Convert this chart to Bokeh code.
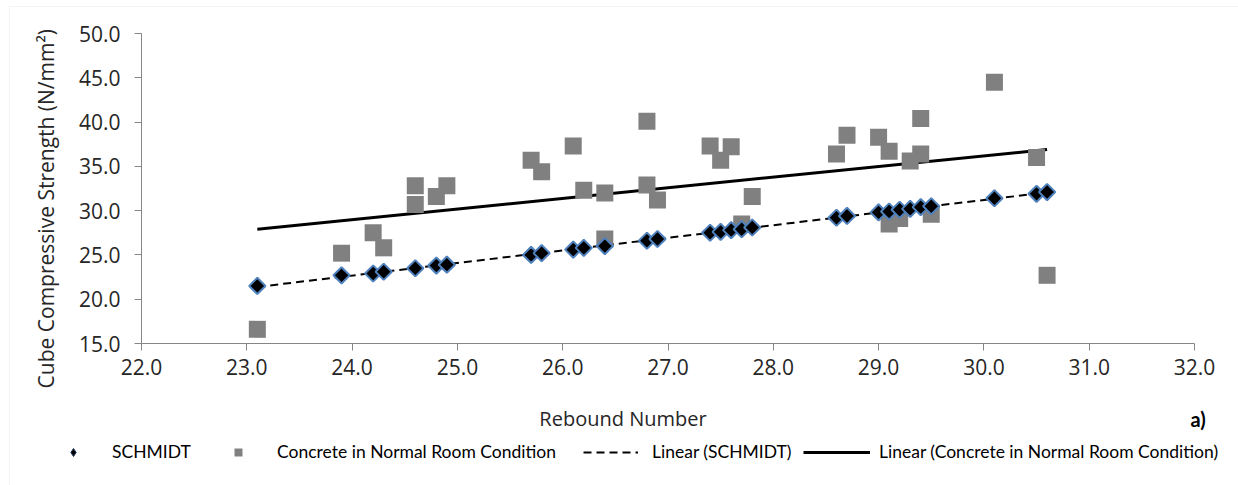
import numpy as np
from math import pi
from bokeh.plotting import figure
from bokeh.models import (Legend, LegendItem, Label, BoxAnnotation, FixedTicker,
                          PrintfTickFormatter, Range1d, ColumnDataSource)
from bokeh.embed import file_html
from bokeh.resources import INLINE

# ---------------- data ----------------
schmidt_x = [23.1, 23.9, 24.2, 24.3, 24.6, 24.8, 24.9, 25.7, 25.8, 26.1, 26.2, 26.4, 26.8, 26.9,
             27.4, 27.5, 27.6, 27.7, 27.8, 28.6, 28.7, 29.0, 29.1, 29.2, 29.3, 29.4, 29.5,
             30.1, 30.5, 30.6]
schmidt_y = [21.5, 22.7, 22.9, 23.1, 23.5, 23.8, 23.9, 25.0, 25.2, 25.6, 25.8, 26.0, 26.6, 26.8,
             27.5, 27.6, 27.8, 27.9, 28.1, 29.2, 29.4, 29.8, 29.9, 30.1, 30.2, 30.4, 30.5,
             31.4, 31.9, 32.1]

room_x = [23.1, 23.9, 24.2, 24.3, 24.6, 24.6, 24.8, 24.9, 25.7, 25.8, 26.1, 26.2, 26.4, 26.4,
          26.8, 26.8, 26.9, 27.4, 27.5, 27.6, 27.7, 27.8, 28.6, 28.7, 29.0, 29.1, 29.1, 29.2,
          29.3, 29.4, 29.4, 29.5, 30.1, 30.5, 30.6]
room_y = [16.6, 25.2, 27.5, 25.8, 32.8, 30.7, 31.6, 32.8, 35.7, 34.4, 37.3, 32.3, 32.0, 26.8,
          40.1, 32.9, 31.2, 37.3, 35.7, 37.2, 28.5, 31.6, 36.4, 38.5, 38.3, 36.7, 28.5, 29.1,
          35.6, 40.4, 36.4, 29.6, 44.5, 36.0, 22.7]

x_ticks = [22.0, 23.0, 24.0, 25.0, 26.0, 27.0, 28.0, 29.0, 30.0, 31.0, 32.0]
y_ticks = [15.0, 20.0, 25.0, 30.0, 35.0, 40.0, 45.0, 50.0]

series_names = ["SCHMIDT", "Concrete in Normal Room Condition",
                "Linear (SCHMIDT)", "Linear (Concrete in Normal Room Condition)"]
x_title = "Rebound Number"
y_title = "Cube  Compressive Strength (N/mm\u00b2)"
panel_tag = "a)"

# linear trend lines (least squares from the data)
def trend(xs, ys):
    k, b = np.polyfit(xs, ys, 1)
    xx = np.array([min(xs), max(xs)])
    return xx, k * xx + b

sx_line, sy_line = trend(schmidt_x, schmidt_y)
rx_line, ry_line = trend(room_x, room_y)

# ---------------- layout (pixels) ----------------
W, H = 1238, 485
PL, PR, PT, PB = 141, 1194, 33, 343     # plot-area edges in canvas pixels
X0, X1 = x_ticks[0], x_ticks[-1]
Y0, Y1 = y_ticks[0], y_ticks[-1]
kx = (PR - PL) / (X1 - X0)
ky = (PB - PT) / (Y1 - Y0)
x_range = Range1d(X0 - PL / kx, X1 + (W - PR) / kx)
y_range = Range1d(Y0 - (H - PB) / ky, Y1 + PT / ky)

TXT = "#262626"
AX = "#868686"
p = figure(width=W, height=H, output_backend="svg", toolbar_location=None,
           x_range=x_range, y_range=y_range,
           min_border_left=0, min_border_right=0, min_border_top=0, min_border_bottom=0)
p.background_fill_color = "white"
p.border_fill_color = "white"
p.outline_line_color = None
p.xgrid.visible = False
p.ygrid.visible = False

for ax in (p.xaxis[0], p.yaxis[0]):
    ax.axis_line_color = AX
    ax.major_tick_line_color = AX
    ax.major_tick_out = 7
    ax.major_tick_in = 0
    ax.minor_tick_line_color = None
    ax.major_label_text_font = "Open Sans"
    ax.major_label_text_font_size = "21px"
    ax.major_label_text_color = TXT
    ax.formatter = PrintfTickFormatter(format="%.1f")
p.xaxis[0].ticker = FixedTicker(ticks=x_ticks)
p.yaxis[0].ticker = FixedTicker(ticks=y_ticks)
p.xaxis[0].bounds = (X0, X1)
p.yaxis[0].bounds = (Y0, Y1)
p.xaxis[0].fixed_location = Y0
p.yaxis[0].fixed_location = X0
p.xaxis[0].major_label_standoff = 8
p.yaxis[0].major_label_standoff = 14

# outer chart-area frame
p.add_layout(BoxAnnotation(left=9, right=W + 50, top=H - 6, bottom=-50,
                           left_units="screen", right_units="screen",
                           top_units="screen", bottom_units="screen",
                           fill_alpha=0, line_color="#d9d9d9", line_width=1, level="underlay"))

# trend lines
r_tl_s = p.line(sx_line, sy_line, line_color="black", line_width=2, line_dash="8 5")
r_tl_r = p.line(rx_line, ry_line, line_color="black", line_width=3)

# scatter series
src_r = ColumnDataSource(dict(x=room_x, y=room_y))
src_s = ColumnDataSource(dict(x=schmidt_x, y=schmidt_y))
p.scatter("x", "y", source=src_r, marker="square", size=17, fill_color="#808080",
          line_color=None)
p.scatter("x", "y", source=src_s, marker="square", angle=pi / 4, size=11.5,
          fill_color="black", line_color="#4F81BD", line_width=2)

# small legend-only glyphs
nan = [float("nan")]
lg_s = p.scatter(nan, nan, marker="diamond", size=11, fill_color="black",
                 line_color="#1F3864", line_width=1)
lg_r = p.scatter(nan, nan, marker="square", size=9, fill_color="#808080", line_color=None)

LEG_Y = H - 462
def add_leg(label, renderer, left, gw, standoff):
    lg = Legend(items=[LegendItem(label=label, renderers=[renderer])],
                location=(left, LEG_Y), orientation="horizontal",
                glyph_width=gw, glyph_height=20, label_height=20, label_standoff=standoff,
                padding=0, margin=0, spacing=0, border_line_color=None,
                background_fill_alpha=0, label_text_font="Lato",
                label_text_font_size="17.5px", label_text_color="black")
    p.add_layout(lg, "center")

add_leg(series_names[0], lg_s, 43, 60, 9)
add_leg(series_names[1], lg_r, 208, 60, 9)
add_leg(series_names[2], r_tl_s, 583, 55, 14)
add_leg(series_names[3], r_tl_r, 803, 67, 9)

# titles
p.add_layout(Label(x=622.5, y=H - 418, x_units="screen", y_units="screen", text=x_title,
                   text_align="center", text_baseline="alphabetic", text_font="Open Sans",
                   text_font_size="20px", text_color=TXT))
p.add_layout(Label(x=45, y=H - 205.5, x_units="screen", y_units="screen", text=y_title,
                   angle=pi / 2, text_align="center", text_baseline="alphabetic",
                   text_font="Open Sans", text_font_size="21px", text_color=TXT))
p.add_layout(Label(x=1190, y=H - 418, x_units="screen", y_units="screen", text=panel_tag,
                   text_align="left", text_baseline="alphabetic", text_font="Lato",
                   text_font_style="bold", text_font_size="20px", text_color="black"))

open("out.html", "w").write(file_html(p, INLINE))
